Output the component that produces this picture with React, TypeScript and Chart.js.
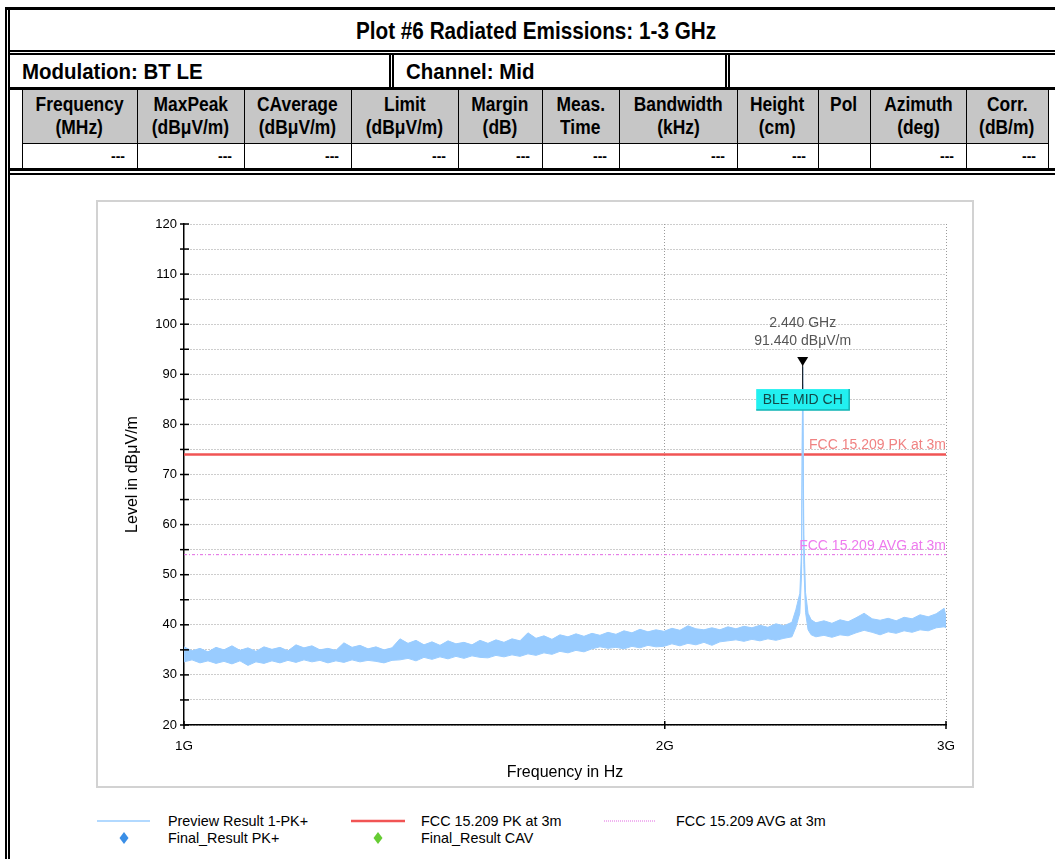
import React, { useEffect, useRef } from "react";
import { Chart, registerables } from "chart.js";
Chart.register(...registerables);

// ---------- data ----------
const freqMHz = [
  1000, 1011.6, 1023.3, 1035.2, 1047.2, 1059.3, 1071.6, 1084.0, 1096.6, 1109.3,
  1122.2, 1135.2, 1148.4, 1161.7, 1175.2, 1188.8, 1202.6, 1216.5, 1230.6, 1244.9,
  1259.3, 1274.1, 1288.8, 1303.8, 1318.9, 1334.2, 1349.7, 1365.3, 1381.2, 1397.2,
  1413.4, 1429.8, 1446.4, 1463.2, 1480.1, 1497.3, 1514.7, 1532.2, 1550.0, 1568.0,
  1586.2, 1604.6, 1623.2, 1642.0, 1661.1, 1680.3, 1699.8, 1719.5, 1739.5, 1759.7,
  1780.1, 1800.7, 1821.6, 1842.7, 1864.1, 1885.7, 1907.6, 1929.7, 1952.1, 1974.8,
  1997.6, 2020.8, 2044.2, 2067.9, 2091.9, 2116.2, 2140.7, 2165.6, 2190.7, 2216.1,
  2241.8, 2267.8, 2294.1, 2320.7, 2347.6, 2374.9, 2402.4,
  2416, 2430, 2436, 2440, 2444, 2450, 2459, 2470,
  2487, 2516, 2545, 2575, 2605, 2635, 2666, 2697, 2728, 2760, 2792, 2824, 2857, 2890,
  2924, 2958, 2992, 3000,
];
const upperLevel = [
  35.6, 34.8, 35.3, 34.6, 35.5, 35.0, 35.8, 34.9, 35.4, 34.7,
  35.6, 35.1, 35.5, 34.8, 36.0, 35.4, 35.8, 35.0, 35.3, 34.9,
  36.4, 35.5, 35.9, 35.2, 35.6, 35.0, 35.4, 37.2, 36.3, 36.9,
  36.0, 36.6, 35.9, 36.8, 36.2, 36.5, 36.0, 36.9, 36.3, 37.0,
  36.5, 37.2, 36.8, 38.4, 37.3, 37.8, 37.1, 38.0, 37.6, 38.2,
  37.7, 38.3, 37.9, 38.5, 38.1, 38.8, 38.4, 39.1, 38.6, 39.0,
  38.7, 39.3, 38.9, 39.8, 39.2, 39.0, 39.4, 39.0, 39.6, 39.2,
  39.7, 39.4, 39.9, 39.5, 40.2, 39.8, 40.5,
  43.0, 46.3, 55.0, 91.44, 58.0, 46.5, 42.3, 41.0,
  40.4, 40.8, 40.3, 41.0, 40.6, 41.4, 42.3, 41.2, 40.9, 41.3, 40.8, 41.5, 41.2, 42.0,
  41.6, 42.2, 43.3, 41.6,
];
const lowerLevel = [
  32.6, 33.0, 32.4, 32.8, 32.3, 32.7, 32.2, 32.8, 31.9, 32.6,
  32.3, 32.8, 32.4, 32.9, 32.5, 33.0, 32.6, 32.9, 32.4, 32.8,
  32.5, 33.0, 32.6, 32.9, 32.7, 32.4, 32.9, 33.0, 33.3, 32.8,
  33.5, 33.1, 33.6, 33.2, 33.7, 33.3, 33.8, 33.5, 33.4, 33.9,
  33.6, 34.0, 33.7, 34.2, 33.9, 34.4, 34.1, 34.7, 34.4, 34.9,
  34.6, 35.2, 35.6, 35.3, 35.5, 35.2, 35.7, 35.4, 35.9, 35.6,
  35.7, 36.2, 35.8, 36.3, 36.0, 36.5, 35.9, 36.6, 36.8, 37.0,
  36.7, 37.1, 36.8, 37.2, 36.9, 37.3, 37.6,
  39.5, 42.3, 50.0, 88.0, 52.0, 42.5, 39.0, 38.0,
  37.6, 37.9, 37.5, 38.0, 37.8, 38.4, 38.9, 38.5, 38.0, 38.6, 38.3, 38.8, 38.5, 39.0,
  38.8, 39.4, 39.6, 39.4,
];
const limitFreqMHz = [1000, 3000];
const pkLimit = [74, 74];
const avgLimit = [54, 54];
const pkLimitLabel = "FCC 15.209 PK at 3m";
const avgLimitLabel = "FCC 15.209 AVG at 3m";
const markerFreqMHz = 2440;
const markerLevel = 91.44;
const markerLines = ["2.440 GHz", "91.440 dB\u03BCV/m"];
const markerLabel = "BLE MID CH";
const xTicksMHz = [1000, 2000, 3000];
const xTickLabels = ["1G", "2G", "3G"];
const yMin = 20;
const yMax = 120;
const yStep = 5;

const titleText = "Plot #6 Radiated Emissions: 1-3 GHz";
const modulationText = "Modulation: BT LE";
const channelText = "Channel: Mid";
const colEdges = [22, 137, 244, 351, 458, 542, 619, 737, 818, 870, 966, 1048];
const headerLine1 = ["Frequency", "MaxPeak", "CAverage", "Limit", "Margin", "Meas.", "Bandwidth", "Height", "Pol", "Azimuth", "Corr."];
const headerLine2 = ["(MHz)", "(dB\u03BCV/m)", "(dB\u03BCV/m)", "(dB\u03BCV/m)", "(dB)", "Time", "(kHz)", "(cm)", "", "(deg)", "(dB/m)"];
const dataRow = ["---", "---", "---", "---", "---", "---", "---", "---", "", "---", "---"];
const legendRows = [
  ["Preview Result 1-PK+", 168, 821],
  ["FCC 15.209 PK at 3m", 421, 821],
  ["FCC 15.209 AVG at 3m", 676, 821],
  ["Final_Result PK+", 168, 838],
  ["Final_Result CAV", 421, 838],
];

// ---------- styles ----------
const CHART_FONT = "'Liberation Sans', Arial, sans-serif";
const TABLE_FONT = "'Liberation Sans', Arial, sans-serif";
const TRACE = "#99ccff";
const PK_COLOR = "#f15454";
const AVG_COLOR = "#e266e2";
const GRID = "#9a9a9a";

const overlayPlugin = {
  id: "overlay",
  afterDraw(chart: any) {
    const ctx = chart.ctx;
    const xs = chart.scales.x;
    const ys = chart.scales.y;
    const { left, right, bottom } = chart.chartArea;
    ctx.save();
    ctx.strokeStyle = "#000";
    ctx.lineWidth = 1.5;
    ys.ticks.forEach((t: any) => {
      const yy = ys.getPixelForValue(t.value);
      ctx.beginPath();
      ctx.moveTo(left - 4, yy);
      ctx.lineTo(left + 5, yy);
      ctx.stroke();
    });
    xs.ticks.forEach((t: any) => {
      const xx = xs.getPixelForValue(t.value);
      ctx.beginPath();
      ctx.moveTo(xx, bottom - 4);
      ctx.lineTo(xx, bottom + 4);
      ctx.stroke();
    });
    ctx.font = `14px ${CHART_FONT}`;
    ctx.textAlign = "right";
    ctx.textBaseline = "bottom";
    ctx.fillStyle = "#f08282";
    ctx.fillText(pkLimitLabel, right, ys.getPixelForValue(pkLimit[1]) - 2);
    ctx.fillStyle = "#ee7aee";
    ctx.fillText(avgLimitLabel, right, ys.getPixelForValue(avgLimit[1]) - 2);
    const px = xs.getPixelForValue(markerFreqMHz);
    const py = ys.getPixelForValue(markerLevel);
    ctx.font = `14px ${CHART_FONT}`;
    ctx.textAlign = "center";
    ctx.textBaseline = "middle";
    ctx.fillStyle = "#555";
    ctx.fillText(markerLines[0], px, py - 44);
    ctx.fillText(markerLines[1], px, py - 26);
    ctx.fillStyle = "#000";
    ctx.beginPath();
    ctx.moveTo(px - 5.5, py - 10);
    ctx.lineTo(px + 5.5, py - 10);
    ctx.lineTo(px, py - 1);
    ctx.closePath();
    ctx.fill();
    ctx.strokeStyle = "#000";
    ctx.lineWidth = 1;
    ctx.beginPath();
    ctx.moveTo(px, py - 2);
    ctx.lineTo(px, py + 22);
    ctx.stroke();
    const bw = 93;
    const bh = 21;
    const bx = px - bw / 2;
    const by = py + 22;
    ctx.fillStyle = "#22f0f0";
    ctx.fillRect(bx, by, bw, bh);
    ctx.strokeStyle = "#14b4b4";
    ctx.lineWidth = 1.5;
    ctx.beginPath();
    ctx.moveTo(bx + bw, by);
    ctx.lineTo(bx + bw, by + bh);
    ctx.lineTo(bx, by + bh);
    ctx.stroke();
    ctx.fillStyle = "#124848";
    ctx.fillText(markerLabel, px, by + bh / 2 + 1);
    ctx.restore();
  },
};

function ChartCanvas() {
  const ref = useRef<HTMLCanvasElement | null>(null);
  useEffect(() => {
    if (!ref.current) return;
    const upperPts = freqMHz.map((f, i) => ({ x: f, y: upperLevel[i] }));
    const lowerPts = freqMHz.map((f, i) => ({ x: f, y: lowerLevel[i] }));
    const pkPts = limitFreqMHz.map((f, i) => ({ x: f, y: pkLimit[i] }));
    const avgPts = limitFreqMHz.map((f, i) => ({ x: f, y: avgLimit[i] }));
    const chart = new Chart(ref.current, {
      type: "line",
      data: {
        datasets: [
          { label: "lower", data: lowerPts, borderColor: TRACE, backgroundColor: TRACE, borderWidth: 1, pointRadius: 0, fill: false, tension: 0 },
          { label: "Preview Result 1-PK+", data: upperPts, borderColor: TRACE, backgroundColor: TRACE, borderWidth: 1, pointRadius: 0, fill: "-1", tension: 0 },
          { label: pkLimitLabel, data: pkPts, borderColor: PK_COLOR, borderWidth: 2.5, pointRadius: 0, fill: false },
          { label: avgLimitLabel, data: avgPts, borderColor: AVG_COLOR, borderWidth: 1, borderDash: [3, 2, 1, 2], pointRadius: 0, fill: false },
        ],
      } as any,
      options: {
        animation: false,
        responsive: false,
        maintainAspectRatio: false,
        layout: { padding: { left: 0, top: 22, right: 26, bottom: 0 } },
        plugins: { legend: { display: false }, tooltip: { enabled: false }, title: { display: false } },
        scales: {
          x: {
            type: "logarithmic",
            min: xTicksMHz[0],
            max: xTicksMHz[xTicksMHz.length - 1],
            afterBuildTicks: (s: any) => {
              s.ticks = xTicksMHz.map((v) => ({ value: v }));
            },
            afterFit: (s: any) => {
              s.height = 60;
            },
            ticks: {
              autoSkip: false,
              maxRotation: 0,
              padding: 13,
              color: "#000",
              font: { family: CHART_FONT, size: 13.5 },
              callback: (v: any) => {
                const i = xTicksMHz.indexOf(Number(v));
                return i >= 0 ? xTickLabels[i] : "";
              },
            },
            grid: {
              drawTicks: false,
              lineWidth: 1,
              color: (c: any) => (c.tick && c.tick.value === xTicksMHz[0] ? "rgba(0,0,0,0)" : GRID),
            },
            border: { display: true, color: "#000", width: 1.5, dash: [1, 2] },
            title: { display: true, text: "Frequency in Hz", color: "#000", font: { family: CHART_FONT, size: 16 }, padding: { top: 0, bottom: 3 } },
          },
          y: {
            type: "linear",
            min: yMin,
            max: yMax,
            afterFit: (s: any) => {
              s.width = 86;
            },
            ticks: {
              stepSize: yStep,
              autoSkip: false,
              padding: 7,
              color: "#000",
              font: { family: CHART_FONT, size: 13 },
              callback: (v: any) => (Number(v) % 10 === 0 ? String(v) : ""),
            },
            grid: { drawTicks: false, lineWidth: 1, color: GRID },
            border: { display: true, color: "#000", width: 1.5, dash: [1, 2] },
            title: { display: true, text: "Level in dB\u03BCV/m", color: "#000", font: { family: CHART_FONT, size: 16 }, padding: { top: 24.6, bottom: 0 } },
          },
        },
      } as any,
      plugins: [overlayPlugin],
    });
    return () => chart.destroy();
  }, []);
  return <canvas ref={ref} width={874} height={583} style={{ position: "absolute", left: 98, top: 202, width: 874, height: 583 }} />;
}

const line = (left: number, top: number, width: number, height: number, key?: string) => (
  <div key={key} style={{ position: "absolute", left, top, width, height, background: "#000" }} />
);

const narrow = (text: string, sx: number, origin: string) => (
  <span style={{ display: "inline-block", transform: `scaleX(${sx})`, transformOrigin: origin, whiteSpace: "nowrap" }}>{text}</span>
);

export default function App() {
  const hdrCells = headerLine1.map((h, i) => {
    const l = colEdges[i];
    const w = colEdges[i + 1] - colEdges[i];
    return (
      <div key={"h" + i} style={{ position: "absolute", left: l, top: 93, width: w, textAlign: "center", fontWeight: "bold", fontSize: 20, lineHeight: "23px" }}>
        <div>{narrow(h, 0.87, "center")}</div>
        <div>{headerLine2[i] ? narrow(headerLine2[i], 0.87, "center") : "\u00A0"}</div>
      </div>
    );
  });
  const dataCells = dataRow.map((d, i) => {
    const l = colEdges[i];
    const w = colEdges[i + 1] - colEdges[i];
    return (
      <div key={"d" + i} style={{ position: "absolute", left: l, top: 144, width: w - 12, height: 25, lineHeight: "25px", textAlign: "right", fontWeight: "bold", fontSize: 14 }}>
        {d}
      </div>
    );
  });
  const vlines = colEdges.map((x, i) => line(x, 90, 1, 79, "v" + i));

  return (
    <div style={{ position: "absolute", left: 0, top: 0, width: 1055, height: 859, background: "#fff", overflow: "hidden", fontFamily: TABLE_FONT, color: "#000" }}>
      <div style={{ position: "absolute", left: 22, top: 90, width: 1026, height: 53, background: "#c6c6c6" }} />
      {line(5, 7, 2, 852, "ol1")}
      {line(8, 7, 2, 852, "ol2")}
      {line(5, 7, 1050, 3, "ot")}
      {line(8, 50, 1047, 2, "tb1")}
      {line(8, 53, 1047, 2, "tb2")}
      {line(389, 53, 1.5, 35, "c1a")}
      {line(392, 53, 1.5, 35, "c1b")}
      {line(725, 53, 1.5, 35, "c2a")}
      {line(728, 53, 1.5, 35, "c2b")}
      {line(8, 87, 1047, 3, "r2b")}
      {line(22, 143, 1026, 1, "hd")}
      {vlines}
      {line(8, 168, 1047, 3, "bb1")}
      {line(8, 173, 1047, 2, "bb2")}

      <div style={{ position: "absolute", left: 9, top: 11, width: 1054, height: 40, lineHeight: "40px", textAlign: "center", fontWeight: "bold", fontSize: 23 }}>
        {narrow(titleText, 0.9, "center")}
      </div>
      <div style={{ position: "absolute", left: 22, top: 56, height: 32, lineHeight: "32px", fontWeight: "bold", fontSize: 22 }}>{narrow(modulationText, 0.93, "left")}</div>
      <div style={{ position: "absolute", left: 406, top: 56, height: 32, lineHeight: "32px", fontWeight: "bold", fontSize: 22 }}>{narrow(channelText, 0.93, "left")}</div>
      {hdrCells}
      {dataCells}

      <div style={{ position: "absolute", left: 96, top: 200, width: 878, height: 588, border: "2px solid #d2d2d2", boxSizing: "border-box" }} />
      <ChartCanvas />

      <svg style={{ position: "absolute", left: 0, top: 800, width: 1055, height: 59 }} width={1055} height={59}>
        <line x1={97} y1={21} x2={150} y2={21} stroke={TRACE} strokeWidth={1.5} />
        <line x1={351} y1={21} x2={405} y2={21} stroke={PK_COLOR} strokeWidth={2.5} />
        <line x1={604} y1={21} x2={656} y2={21} stroke={AVG_COLOR} strokeWidth={1} strokeDasharray="1 1" />
        <polygon points="124,32 128.5,38 124,44 119.5,38" fill="#3a8ee6" />
        <polygon points="378,32 382.5,38 378,44 373.5,38" fill="#66cc33" />
      </svg>
      {legendRows.map(([t, x, y]) => (
        <div key={String(t)} style={{ position: "absolute", left: Number(x), top: Number(y) - 8, height: 16, lineHeight: "16px", fontFamily: CHART_FONT, fontSize: 14.5, whiteSpace: "nowrap" }}>
          {narrow(String(t), 0.99, "left")}
        </div>
      ))}
    </div>
  );
}
